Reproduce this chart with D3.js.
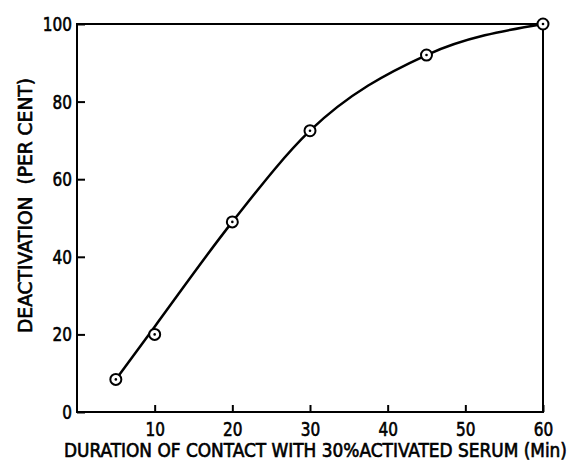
<!DOCTYPE html>
<html>
<head>
<meta charset="utf-8">
<script src="https://d3js.org/d3.v7.min.js"></script>
<style>
    body { margin: 0; background: #fff; }
    text {
        font-family: "DejaVu Sans Condensed", "Liberation Sans Narrow", sans-serif;
        fill: #000;
        stroke: #000;
        stroke-width: 0.6px;
        white-space: pre;
    }
    .axis text { font-size: 20px; }
    .axis path { display: none; }
    .axis line { stroke: #000; stroke-width: 2px; }
</style>
</head>
<body>
<script>
// measured points (minutes, per cent)
var minutes = [5, 10, 20, 30, 45, 60];
var deactivation = [8.4, 20, 49, 72.5, 92, 100];

// hand drawn fitted curve
var curveMinutes = [5, 10, 20, 30, 45, 60];
var curveValues = [8.4, 22, 49, 72.5, 92, 100];

var xTicks = [10, 20, 30, 40, 50, 60];
var yTicks = [0, 20, 40, 60, 80, 100];

var xTitle = "DURATION OF CONTACT WITH 30%ACTIVATED SERUM (Min)";
var yTitle = "DEACTIVATION  (PER CENT)";

var width = 574, height = 466;

var svg = d3.select("body").append("svg")
    .attr("width", width)
    .attr("height", height);

var x = d3.scaleLinear().domain([0, 60]).range([77, 543]);
var y = d3.scaleLinear().domain([0, 100]).range([412, 24]);

var gx = svg.append("g")
    .attr("class", "axis")
    .attr("transform", "translate(0," + y(0) + ")")
    .call(d3.axisBottom(x).tickValues(xTicks).tickSizeInner(-7).tickSizeOuter(0).tickPadding(10));

var gy = svg.append("g")
    .attr("class", "axis")
    .attr("transform", "translate(" + x(0) + ",0)")
    .call(d3.axisLeft(y).tickValues(yTicks).tickSizeInner(-8).tickSizeOuter(0).tickPadding(6));

// narrower digits like the original lettering
gx.selectAll(".tick text").attr("transform", "scale(0.85,1)");
gy.selectAll(".tick text").attr("transform", "scale(0.85,1)");

// frame
svg.append("rect")
    .attr("x", x(0))
    .attr("y", y(100))
    .attr("width", x(60) - x(0))
    .attr("height", y(0) - y(100))
    .attr("fill", "none")
    .attr("stroke", "#000")
    .attr("stroke-width", 2);

var line = d3.line()
    .x(function (d) { return x(d[0]); })
    .y(function (d) { return y(d[1]); })
    .curve(d3.curveMonotoneX);

svg.append("path")
    .datum(d3.zip(curveMinutes, curveValues))
    .attr("d", line)
    .attr("fill", "none")
    .attr("stroke", "#000")
    .attr("stroke-width", 2.5);

var pts = svg.append("g")
    .selectAll("g")
    .data(d3.zip(minutes, deactivation))
    .enter().append("g")
    .attr("transform", function (d) { return "translate(" + x(d[0]) + "," + y(d[1]) + ")"; });

pts.append("circle")
    .attr("r", 5.5)
    .attr("fill", "#fff")
    .attr("stroke", "#000")
    .attr("stroke-width", 2);

pts.append("circle")
    .attr("r", 1.3)
    .attr("fill", "#000");

svg.append("text")
    .attr("x", 64)
    .attr("y", 457)
    .attr("textLength", 503)
    .attr("lengthAdjust", "spacingAndGlyphs")
    .style("font-size", "19px")
    .text(xTitle);

svg.append("text")
    .attr("transform", "translate(32,333) rotate(-90)")
    .attr("textLength", 255)
    .attr("lengthAdjust", "spacingAndGlyphs")
    .style("font-size", "20px")
    .text(yTitle);
</script>
</body>
</html>
